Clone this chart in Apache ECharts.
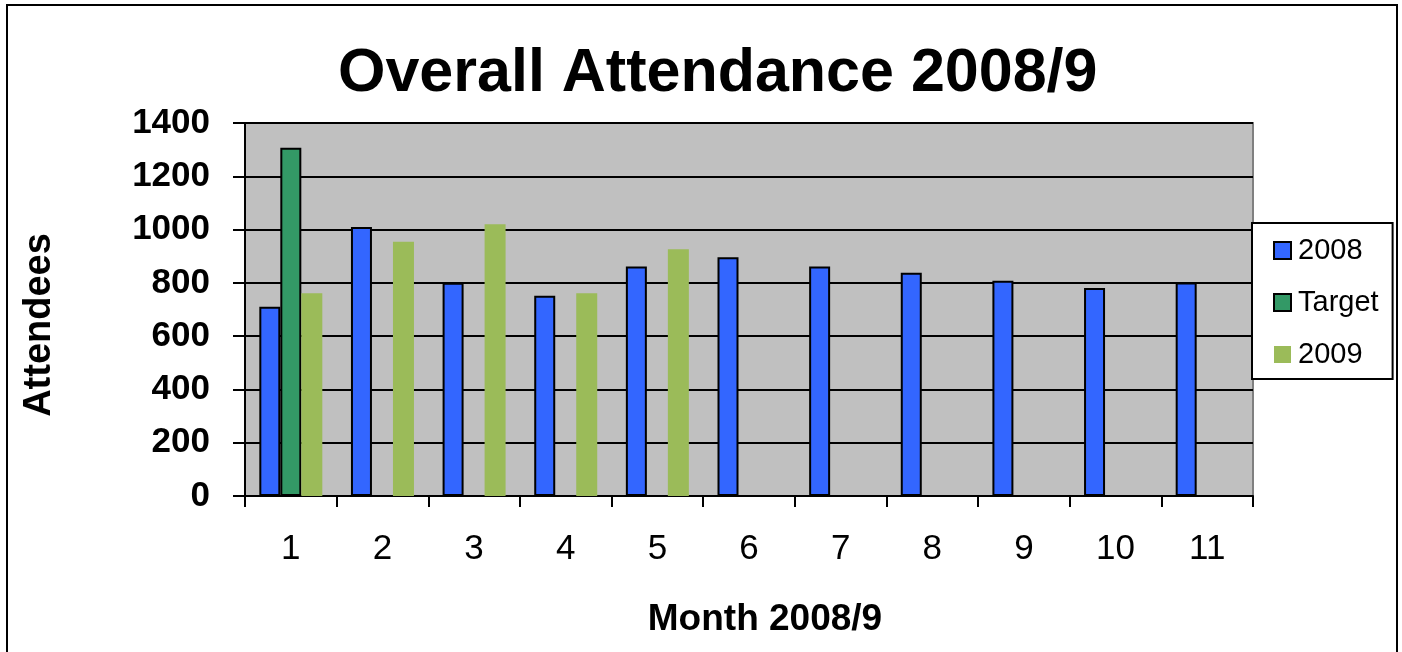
<!DOCTYPE html>
<html>
<head>
<meta charset="utf-8">
<script src="https://cdn.jsdelivr.net/npm/echarts@6/dist/echarts.min.js"></script>
<style>
  html, body { margin: 0; padding: 0; background: #fff; }
  #chart { width: 1402px; height: 652px; }
</style>
</head>
<body>
<div id="chart"></div>
<script>
// Month numbers along the x axis
var months = ["1", "2", "3", "4", "5", "6", "7", "8", "9", "10", "11"];

// Attendance values
var attend2008 = [710, 1010, 800, 752, 861, 896, 861, 838, 808, 781, 801];
var attendTarget = [1307, null, null, null, null, null, null, null, null, null, null];
var attend2009 = [761, 954, 1020, 761, 926, null, null, null, null, null, null];

var FONT = "Liberation Sans, Arial, sans-serif";

var chart = echarts.init(document.getElementById("chart"));

var option = {
    animation: false,
    backgroundColor: "#ffffff",
    title: {
        text: "Overall Attendance 2008/9",
        left: 333,
        top: 39,
        textStyle: { fontFamily: FONT, fontSize: 61, fontWeight: "bold", color: "#000" }
    },
    legend: {
        orient: "vertical",
        left: 1252,
        top: 223,
        padding: [13, 14, 10, 21],
        itemGap: 23,
        itemWidth: 17,
        itemHeight: 17,
        icon: "rect",
        backgroundColor: "#ffffff",
        borderColor: "#000",
        borderWidth: 2,
        borderRadius: 0,
        textStyle: { fontFamily: FONT, fontSize: 29, color: "#000", padding: [0, 0, 0, 2] },
        data: ["2008", "Target", "2009"]
    },
    graphic: [{
        // chart area frame
        type: "rect",
        shape: { x: 7, y: 5, width: 1390, height: 700 },
        style: { fill: null, stroke: "#000", lineWidth: 2 },
        silent: true,
        z: -1
    }],
    grid: {
        left: 245,
        right: 149,
        top: 123,
        bottom: 156,
        show: true,
        backgroundColor: "#c0c0c0",
        borderColor: "#808080",
        borderWidth: 2
    },
    xAxis: {
        type: "category",
        data: months,
        name: "Month 2008/9",
        nameLocation: "middle",
        nameGap: 105,
        nameTextStyle: { fontFamily: FONT, fontSize: 37, fontWeight: "bold", color: "#000", padding: [0, 0, 0, 32] },
        axisLine: { lineStyle: { color: "#000", width: 2 } },
        axisTick: { show: true, length: 11, lineStyle: { color: "#000", width: 2 } },
        axisLabel: { margin: 36, fontFamily: FONT, fontSize: 35, color: "#000" }
    },
    yAxis: {
        type: "value",
        min: 0,
        max: 1400,
        interval: 200,
        name: "Attendees",
        nameLocation: "middle",
        nameGap: 186,
        nameTextStyle: { fontFamily: FONT, fontSize: 38, fontWeight: "bold", color: "#000", padding: [0, 31, 0, 0] },
        axisLine: { show: true, lineStyle: { color: "#000", width: 2 } },
        axisTick: { show: true, length: 12, lineStyle: { color: "#000", width: 2 } },
        axisLabel: {
            margin: 35,
            fontFamily: FONT,
            fontSize: 35,
            fontWeight: "bold",
            color: "#000",
            formatter: function (v) { return String(v); }
        },
        splitLine: { show: true, lineStyle: { color: "#000", width: 2 } }
    },
    series: [
        {
            name: "2008",
            type: "bar",
            data: attend2008,
            barWidth: 21,
            barGap: "0%",
            itemStyle: { color: "#3366ff", borderColor: "#000", borderWidth: 2 }
        },
        {
            name: "Target",
            type: "bar",
            data: attendTarget,
            barWidth: 21,
            barGap: "0%",
            itemStyle: { color: "#339966", borderColor: "#000", borderWidth: 2 }
        },
        {
            name: "2009",
            type: "bar",
            data: attend2009,
            barWidth: 21,
            barGap: "0%",
            itemStyle: { color: "#9bbb59" }
        }
    ]
};

chart.setOption(option);
</script>
</body>
</html>
